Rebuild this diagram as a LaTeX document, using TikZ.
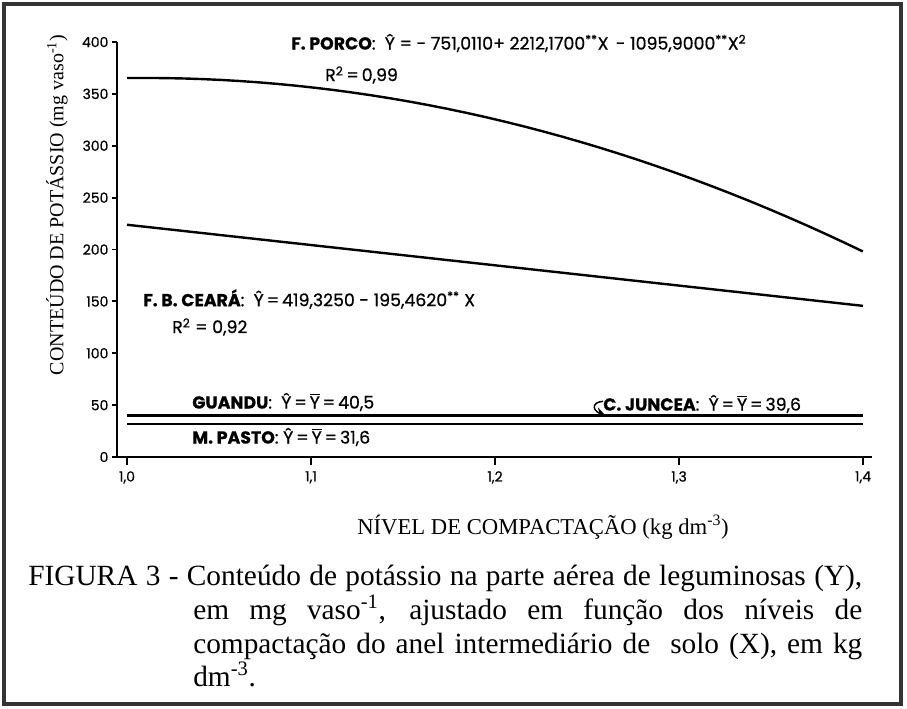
\documentclass[tikz,border=0pt]{standalone}
\usepackage{fontspec}
\setmainfont{Liberation Serif}
\newfontfamily\plotfont[FakeBold=0.7]{Poppins}
\usetikzlibrary{arrows.meta}
\tikzset{
     axis/.style={line width=1.4pt},
     curve/.style={line width=1.8pt},
     eqlabel/.style={anchor=west, inner sep=0pt, font=\plotfont\fontsize{13}{15}\selectfont},
     ticklabel/.style={inner sep=0pt, font=\plotfont\fontsize{10.5}{12}\selectfont},
     captext/.style={anchor=base west, inner sep=0pt, font=\fontsize{22}{25.5}\selectfont}
     }
\newcommand\Yhat{\^{Y}}
\newcommand\Ybar{$\overline{\mbox{Y}}$}

\begin{document}
\begin{tikzpicture}[x=0.75pt,y=-0.75pt]
  \useasboundingbox (0,0) rectangle (907,708);
  % frame
  \draw[line width=2.4pt, black!80] (4,4) rectangle (901,704);
  % axes and ticks
  \coordinate (origin) at (117,457);
  \draw[axis] (117,42) -- (origin) -- (872,457);
  \foreach \v in {0,50,...,400}
    \draw[axis] (117,{457-1.0375*\v}) -- ++(-5,0) node[ticklabel, anchor=east, xshift=-2pt] (ytick\v) {\v};
  \foreach \i in {0,...,4}
    \draw[axis] ({127+1840*0.1*\i},457) -- ++(0,8) node[ticklabel, anchor=north, yshift=-4pt] (xtick\i) {1,\i};
  % fitted curves
  \draw[curve] plot[domain=1:1.4, samples=40] ({127+1840*(\x-1)}, {457-1.0375*(-751.011+2212.17*\x-1095.9*\x*\x)});
  \draw[curve] plot[domain=1:1.4, samples=2] ({127+1840*(\x-1)}, {457-1.0375*(419.325-195.462*\x)});
  \draw[curve] (127,{457-1.0375*40.5}) -- (863,{457-1.0375*40.5});
  \draw[curve] (127,{457-1.0375*39.6}) -- (863,{457-1.0375*39.6});
  \draw[curve] (127,{457-1.0375*31.6}) -- (863,{457-1.0375*31.6});
  % equations
  \node[eqlabel] (porco) at (291,43) {\textbf{F. PORCO}: \ \Yhat\ = - 751,0110+ 2212,1700\textsuperscript{**}X\, - 1095,9000\textsuperscript{**}X\textsuperscript{2}};
  \node[eqlabel] (porcoR) at (325,75) {R\textsuperscript{2}\,=\,0,99};
  \node[eqlabel] (ceara) at (143,299) {\textbf{F. B. CEARÁ}: \ \Yhat\,=\,419,3250 - 195,4620\textsuperscript{**} X};
  \node[eqlabel] (cearaR) at (172,327) {R\textsuperscript{2} = 0,92};
  \node[eqlabel] (guandu) at (192,402) {\textbf{GUANDU}: \ \Yhat\,=\,\Ybar\,=\,40,5};
  \node[eqlabel] (pasto) at (192,437) {\textbf{M. PASTO}: \Yhat\,=\,\Ybar\,=\,31,6};
  \node[eqlabel] (juncea) at (603,404) {\textbf{C. JUNCEA}: \ \Yhat\,=\,\Ybar\,=\,39,6};
  \coordinate (junceaPt) at (606,416);
  \draw[-{Stealth[length=8pt,width=7pt]}, line width=1.1pt] ([yshift=2pt]juncea.west) .. controls (592,402) and (592,410) .. (junceaPt);
  % axis titles
  \node[rotate=90, font=\fontsize{15}{18}\selectfont] (ylabel) at (57,205) {CONTEÚDO DE POTÁSSIO (mg vaso\textsuperscript{-1})};
  \node[font=\fontsize{17}{20}\selectfont] (xlabel) at (543,527) {NÍVEL DE COMPACTAÇÃO (kg dm\textsuperscript{-3})};
  % caption
  \node[captext] (cap1) at (28,585) {\makebox[625.5pt][s]{FIGURA 3 - Conteúdo de potássio na parte aérea de leguminosas (Y),}};
  \node[captext] (cap2) at (193,619) {\makebox[501.75pt][s]{em mg vaso\textsuperscript{-1}, ajustado em função dos níveis de}};
  \node[captext] (cap3) at (193,653) {\makebox[501.75pt][s]{compactação do anel intermediário de\ \ solo (X), em kg}};
  \node[captext] (cap4) at (193,686) {dm\textsuperscript{-3}.};
\end{tikzpicture}
\end{document}
